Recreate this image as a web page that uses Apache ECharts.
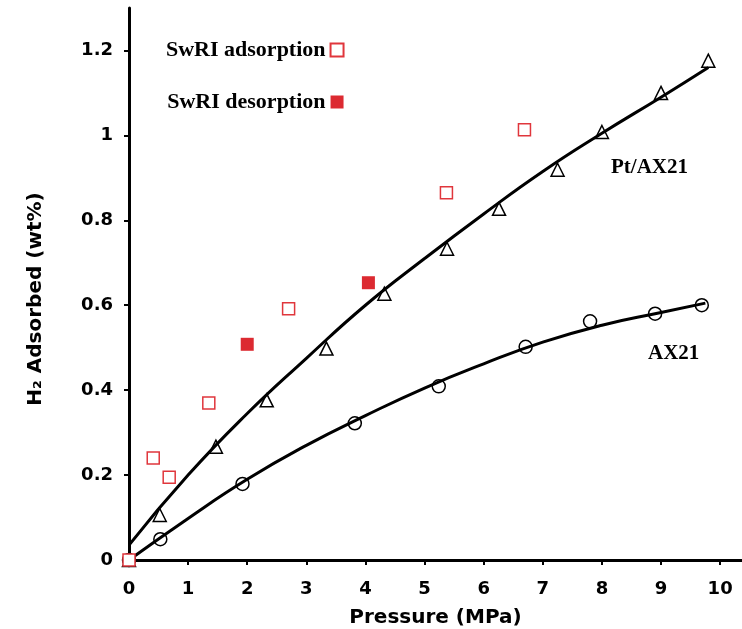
<!DOCTYPE html>
<html>
<head>
<meta charset="utf-8">
<script src="https://cdn.jsdelivr.net/npm/echarts@6/dist/echarts.min.js"></script>
<style>html,body{margin:0;padding:0;background:#fff}#c{width:742px;height:629px}</style>
</head>
<body>
<div id="c"></div>
<script>
// Fitted curves
var ptFitX = [0, 1, 2, 3, 4, 5, 6, 7, 8, 9, 9.8];
var ptFitY = [0.035, 0.20, 0.345, 0.475, 0.60, 0.71, 0.815, 0.915, 1.005, 1.09, 1.16];
var axFitX = [0, 1, 2, 3, 4, 5, 6, 7, 8, 9, 9.75];
var axFitY = [0, 0.098, 0.19, 0.27, 0.34, 0.405, 0.462, 0.513, 0.553, 0.583, 0.605];
// Measured points
var ptX = [0, 0.52, 1.47, 2.33, 3.34, 4.32, 5.38, 6.26, 7.25, 8.0, 9.0, 9.8];
var ptY = [0, 0.106, 0.267, 0.376, 0.498, 0.627, 0.733, 0.827, 0.919, 1.008, 1.10, 1.176];
var axX = [0, 0.53, 1.92, 3.82, 5.24, 6.71, 7.80, 8.90, 9.69];
var axY = [0, 0.049, 0.179, 0.322, 0.409, 0.502, 0.562, 0.58, 0.60];
var adsX = [0, 0.41, 0.68, 1.35, 2.70, 5.37, 6.69];
var adsY = [0, 0.24, 0.195, 0.37, 0.592, 0.865, 1.013];
var desX = [2.0, 4.05];
var desY = [0.508, 0.653];
var xTicks = [0, 1, 2, 3, 4, 5, 6, 7, 8, 9, 10];
var yTicks = [0, 0.2, 0.4, 0.6, 0.8, 1, 1.2];

function pairs(xs, ys) { return xs.map(function (x, i) { return [x, ys[i]]; }); }

var tickFont = { fontFamily: 'DejaVu Sans', fontWeight: 'bold', fontSize: 18, color: '#000' };
var serif = 'Liberation Serif';

var chart = echarts.init(document.getElementById('c'), null, { renderer: 'canvas' });
chart.setOption({
  backgroundColor: '#fff',
  animation: false,
  grid: { left: 129, right: 0, top: 8, bottom: 69, containLabel: false, outerBoundsMode: 'none' },
  legend: {
    data: ['SwRI adsorption', 'SwRI desorption'],
    orient: 'vertical', left: 161, top: 34, align: 'right',
    itemWidth: 13, itemHeight: 13, itemGap: 30,
    textStyle: { fontFamily: serif, fontWeight: 'bold', fontSize: 22, color: '#000', lineHeight: 20 }
  },
  xAxis: [{
    type: 'value', min: 0, max: 10.37, interval: 1,
    name: 'Pressure (MPa)', nameLocation: 'middle', nameGap: 48,
    nameTextStyle: { fontFamily: 'DejaVu Sans', fontWeight: 'bold', fontSize: 20, color: '#000' },
    axisLine: { onZero: false, lineStyle: { color: '#000', width: 3 } },
    axisTick: { show: true, length: 5, lineStyle: { color: '#000', width: 2 },
      customValues: xTicks },
    axisLabel: Object.assign({ margin: 20, customValues: xTicks }, tickFont),
    splitLine: { show: false }
  }, {
    type: 'value', min: 0, max: 10.37, position: 'top',
    axisLine: { show: true, lineStyle: { color: '#000', width: 3 } },
    axisTick: { show: false }, axisLabel: { show: false }, splitLine: { show: false }
  }],
  yAxis: {
    type: 'value', min: 0, max: 1.3, interval: 0.2,
    name: 'H₂ Adsorbed (wt%)', nameLocation: 'middle', nameGap: 83, nameRotate: 90,
    nameTextStyle: { fontFamily: 'DejaVu Sans', fontWeight: 'bold', fontSize: 20, color: '#000', padding: [0, 30, 0, 0] },
    axisLine: { show: true, onZero: false, lineStyle: { color: '#000', width: 3 } },
    axisTick: { show: true, length: 5, lineStyle: { color: '#000', width: 2 }, customValues: yTicks },
    axisLabel: Object.assign({ margin: 16, customValues: yTicks }, tickFont),
    splitLine: { show: false }
  },
  graphic: [
    { type: 'text', left: 611, top: 157, style: { text: 'Pt/AX21', fontFamily: serif, fontWeight: 'bold', fontSize: 21, fill: '#000' } },
    { type: 'text', left: 648, top: 343, style: { text: 'AX21', fontFamily: serif, fontWeight: 'bold', fontSize: 21, fill: '#000' } }
  ],
  series: [
    { name: 'Pt/AX21 fit', type: 'line', data: pairs(ptFitX, ptFitY), smooth: true, showSymbol: false,
      lineStyle: { color: '#000', width: 3 }, z: 2 },
    { name: 'AX21 fit', type: 'line', data: pairs(axFitX, axFitY), smooth: true, showSymbol: false,
      lineStyle: { color: '#000', width: 3 }, z: 2 },
    { name: 'Pt/AX21', type: 'scatter', data: pairs(ptX, ptY), symbol: 'triangle', symbolSize: 13,
      itemStyle: { color: 'rgba(255,255,255,0)', borderColor: '#000', borderWidth: 1.5, opacity: 1 }, z: 3 },
    { name: 'AX21', type: 'scatter', data: pairs(axX, axY), symbol: 'circle', symbolSize: 13,
      itemStyle: { color: 'rgba(255,255,255,0)', borderColor: '#000', borderWidth: 1.5, opacity: 1 }, z: 3 },
    { name: 'SwRI adsorption', type: 'scatter', data: pairs(adsX, adsY), symbol: 'rect', symbolSize: 12,
      itemStyle: { color: '#fff', borderColor: '#e0363c', borderWidth: 1.5, opacity: 1 }, z: 4 },
    { name: 'SwRI desorption', type: 'scatter', data: pairs(desX, desY), symbol: 'rect', symbolSize: 13,
      itemStyle: { color: '#dc2a31', opacity: 1 }, z: 4 }
  ]
});
</script>
</body>
</html>
